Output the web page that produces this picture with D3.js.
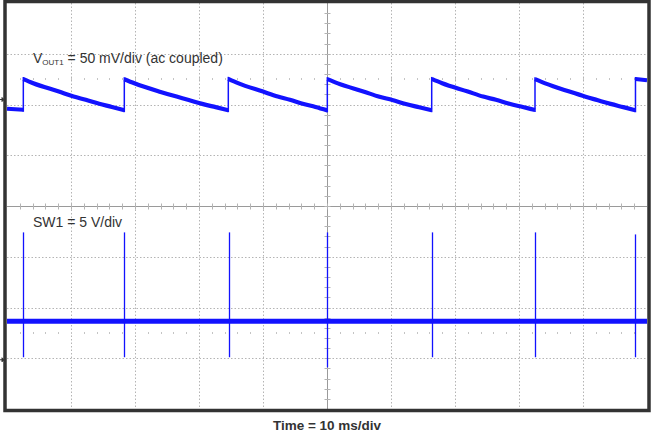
<!DOCTYPE html>
<html>
<head>
<meta charset="utf-8">
<script src="https://cdn.jsdelivr.net/npm/d3@7/dist/d3.min.js"></script>
<style>
  html, body { margin: 0; padding: 0; background: #fff; }
  svg { display: block; font-family: "Liberation Sans", Arial, sans-serif; }
</style>
</head>
<body>
<div id="scope"></div>
<script>
// VOUT1 trace, time in ms (10 ms/div), level in mV (ac coupled)
var voutTime = [0, 2.55, 2.55, 4.1, 8.1, 10.4, 12.3, 14.4, 16.4, 18.33,
  18.33, 19.9, 24.0, 26.5, 28.4, 30.5, 32.6, 34.58,
  34.58, 36.1, 40.0, 42.3, 44.2, 46.2, 48.2, 50.05,
  50.05, 51.7, 55.8, 58.2, 60.2, 62.3, 64.4, 66.36,
  66.36, 68.0, 72.0, 74.4, 76.4, 78.5, 80.6, 82.5,
  82.5, 84.1, 88.0, 90.4, 92.2, 94.3, 96.3, 98.2,
  98.2, 100];
var voutMv = [-8.6, -9.6, 20.7, 16.6, 8.4, 3.5, 0.2, -3.7, -6.8, -10.0,
  20.5, 16.5, 8.0, 3.4, 0.1, -3.8, -7.0, -10.0,
  20.9, 16.6, 8.3, 3.5, 0.3, -3.6, -6.9, -10.2,
  20.6, 16.4, 8.2, 3.2, 0.0, -3.9, -7.1, -10.0,
  20.8, 16.5, 8.4, 3.4, 0.2, -3.7, -6.9, -9.8,
  20.6, 16.4, 8.1, 3.3, 0.0, -3.8, -7.0, -10.1,
  20.7, 19.5];

// SW1 trace, volts
var swBaseTime = [0, 100];
var swBaseV = [3.85, 3.85];
var spikeTimes = [2.55, 18.33, 34.7, 50.05, 66.36, 82.5, 98.2];
var spikeHigh = [12.6, 12.6, 12.6, 12.6, 12.6, 12.6, 12.4];
var spikeLow = [0.3, 0.3, 0.3, -0.7, 0.3, 0.3, 0.3];

var gridTimes = [0, 10, 20, 30, 40, 50, 60, 70, 80, 90, 100];
var gridDivs = [0, 1, 2, 3, 4, 5, 6, 7, 8];

var W = 651, H = 434;
var L = 7, R = 647, T = 3, B = 409;
var traceColor = "#1212ff";

var svg = d3.select("#scope").append("svg")
  .attr("width", W).attr("height", H);

var x = d3.scaleLinear().domain([0, 100]).range([L, R]);
var yDiv = d3.scaleLinear().domain([0, 8]).range([T, B]);
// channel zero markers: VOUT1 at y=100, SW1 at y=360
var yV = d3.scaleLinear().domain([-304.4, 95.6]).range([B, T]);  // 50 mV/div
var yS = d3.scaleLinear().domain([-4.8, 35.2]).range([B, T]);    // 5 V/div

var grid = svg.append("g");
// dotted grid
grid.selectAll(null).data(gridTimes.filter(function(d) { return d > 0 && d < 100 && d !== 50; }))
  .enter().append("line")
  .attr("x1", function(d) { return Math.round(x(d)) + 0.5; })
  .attr("x2", function(d) { return Math.round(x(d)) + 0.5; })
  .attr("y1", T).attr("y2", B)
  .attr("stroke", "#b4b4b4").attr("stroke-dasharray", "1.5,2");
grid.selectAll(null).data(gridDivs.filter(function(d) { return d > 0 && d < 8 && d !== 4; }))
  .enter().append("line")
  .attr("y1", function(d) { return Math.round(yDiv(d)) + 0.5; })
  .attr("y2", function(d) { return Math.round(yDiv(d)) + 0.5; })
  .attr("x1", L).attr("x2", R)
  .attr("stroke", "#b4b4b4").attr("stroke-dasharray", "1.5,2");

// centre cross with minor ticks
var cx = Math.round(x(50)) + 0.5, cy = Math.round(yDiv(4)) + 0.5;
grid.append("line").attr("x1", cx).attr("x2", cx).attr("y1", T).attr("y2", B)
  .attr("stroke", "#9a9a9a");
grid.append("line").attr("y1", cy).attr("y2", cy).attr("x1", L).attr("x2", R)
  .attr("stroke", "#9a9a9a");
var minorY = d3.range(1, 40).map(function(i) { return i / 5; });
var minorX = d3.range(1, 50).map(function(i) { return i * 2; });
grid.selectAll(null).data(minorY).enter().append("line")
  .attr("x1", cx - 3).attr("x2", cx + 3)
  .attr("y1", function(d) { return Math.round(yDiv(d)) + 0.5; })
  .attr("y2", function(d) { return Math.round(yDiv(d)) + 0.5; })
  .attr("stroke", "#b4b4b4");
grid.selectAll(null).data(minorX).enter().append("line")
  .attr("y1", cy - 3).attr("y2", cy + 3)
  .attr("x1", function(d) { return Math.round(x(d)) + 0.5; })
  .attr("x2", function(d) { return Math.round(x(d)) + 0.5; })
  .attr("stroke", "#b4b4b4");
// faint marker rows at half-division positions
[1.5, 6.5].forEach(function(r) {
  grid.selectAll(null).data(minorX).enter().append("rect")
    .attr("x", function(d) { return Math.round(x(d)); })
    .attr("y", Math.round(yDiv(r)) - 1)
    .attr("width", 1).attr("height", 2)
    .attr("fill", "#c4c4c4");
});

// VOUT1 trace: thick noisy ramps, thin rising edges
var ramps = [[]];
voutTime.forEach(function(t, i) {
  if (i > 0 && t === voutTime[i - 1]) ramps.push([]);
  ramps[ramps.length - 1].push([t, voutMv[i]]);
});
var vLine = d3.line().x(function(d) { return x(d[0]); }).y(function(d) { return yV(d[1]); })
  .curve(d3.curveMonotoneX);
svg.selectAll(null).data(ramps).enter().append("path")
  .attr("d", vLine)
  .attr("fill", "none").attr("stroke", traceColor).attr("stroke-width", 4.2);
svg.selectAll(null).data(ramps.slice(1)).enter().append("line")
  .attr("x1", function(d) { return x(d[0][0]); }).attr("x2", function(d) { return x(d[0][0]); })
  .attr("y1", function(d, i) { return yV(ramps[i][ramps[i].length - 1][1]) + 2; })
  .attr("y2", function(d) { return yV(d[0][1]) - 2; })
  .attr("stroke", traceColor).attr("stroke-width", 1.5);

// SW1 trace
var sPts = swBaseTime.map(function(t, i) { return [t, swBaseV[i]]; });
svg.append("path")
  .datum(sPts)
  .attr("d", d3.line().x(function(d) { return x(d[0]); }).y(function(d) { return yS(d[1]); }))
  .attr("fill", "none").attr("stroke", traceColor).attr("stroke-width", 5);
svg.selectAll(null).data(spikeTimes).enter().append("line")
  .attr("x1", function(d) { return Math.round(x(d)) + 0.5; })
  .attr("x2", function(d) { return Math.round(x(d)) + 0.5; })
  .attr("y1", function(d, i) { return yS(spikeHigh[i]); })
  .attr("y2", function(d, i) { return yS(spikeLow[i]); })
  .attr("stroke", traceColor).attr("stroke-width", 1.3);

// frame
svg.append("rect").attr("x", L - 2).attr("y", T - 1.5).attr("width", R - L + 4).attr("height", B - T + 3)
  .attr("fill", "none").attr("stroke", "#333").attr("stroke-width", 3.5);

// channel ground markers
[yV(0), yS(0)].forEach(function(yy) {
  svg.append("path")
    .attr("d", "M0," + (yy - 0.5) + "L2," + (yy - 0.5) + "L2," + (yy - 2.5) + "L4," + (yy - 0.5) + "L2," + (yy + 1.5) + "L2," + (yy - 0.5))
    .attr("fill", "#333").attr("stroke", "#333").attr("stroke-width", 1);
});

// labels
var lab = svg.append("text").attr("x", 33).attr("y", 63)
  .attr("font-size", 14).attr("fill", "#333");
lab.append("tspan").text("V");
lab.append("tspan").attr("font-size", 8).attr("dy", 2).text("OUT1");
lab.append("tspan").attr("dy", -2).text(" = 50 mV/div (ac coupled)");

svg.append("text").attr("x", 33).attr("y", 227)
  .attr("font-size", 14).attr("fill", "#333").text("SW1 = 5 V/div");

svg.append("text").attr("x", x(50)).attr("y", 430)
  .attr("text-anchor", "middle").attr("font-size", 13.5).attr("font-weight", "bold")
  .attr("fill", "#333").text("Time = 10 ms/div");
</script>
</body>
</html>
